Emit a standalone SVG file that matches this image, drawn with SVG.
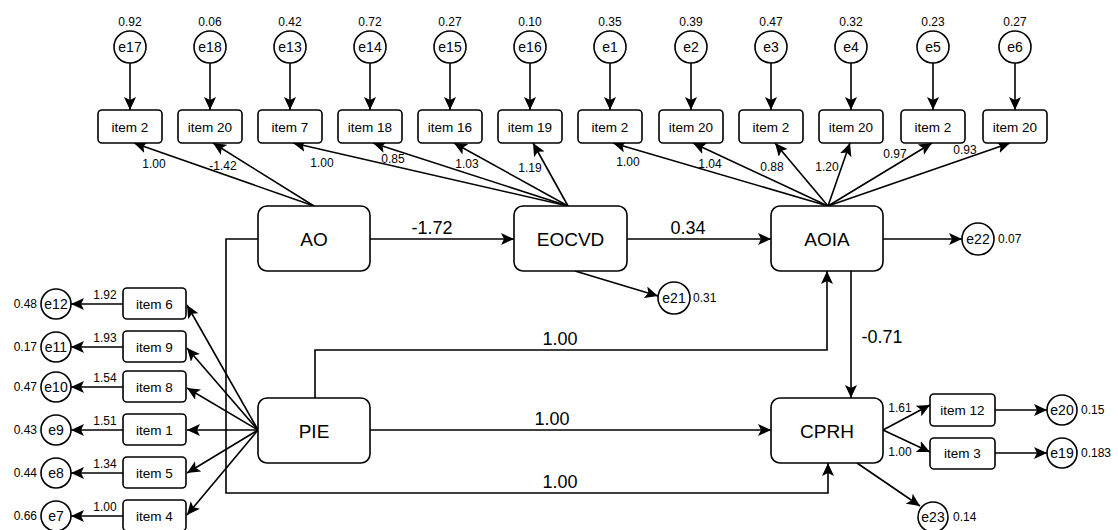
<svg xmlns="http://www.w3.org/2000/svg" width="1118" height="530" viewBox="0 0 1118 530">
<defs>
<marker id="ah" markerUnits="userSpaceOnUse" markerWidth="14" markerHeight="12" refX="13" refY="6" orient="auto">
<path d="M0,0 L13,6 L0,12 L3,6 z" fill="#000"/>
</marker>
<style>
text{font-family:"Liberation Sans",Arial,sans-serif;fill:#000}
.c{stroke:#000;stroke-width:1.6;fill:none}
.a{stroke:#000;stroke-width:1.6;fill:none;marker-end:url(#ah)}
.box{fill:#fff;stroke:#000;stroke-width:1.6}
.lv{fill:#fff;stroke:#000;stroke-width:1.6}
.it{font-size:13.5px;text-anchor:middle}
.ci{font-size:14px;text-anchor:middle}
.sm{font-size:12px}
.mn{font-size:19px;text-anchor:middle}
.pl{font-size:18px;text-anchor:middle}
.mid{text-anchor:middle}
</style>
</defs>
<rect width="1118" height="530" fill="#fff"/>

<g id="connectors">
<!-- error to top items -->
<line class="a" x1="130" y1="63" x2="130" y2="110"/>
<line class="a" x1="210" y1="63" x2="210" y2="110"/>
<line class="a" x1="290" y1="63" x2="290" y2="110"/>
<line class="a" x1="370" y1="63" x2="370" y2="110"/>
<line class="a" x1="450" y1="63" x2="450" y2="110"/>
<line class="a" x1="530" y1="63" x2="530" y2="110"/>
<line class="a" x1="610" y1="63" x2="610" y2="110"/>
<line class="a" x1="691" y1="63" x2="691" y2="110"/>
<line class="a" x1="771" y1="63" x2="771" y2="110"/>
<line class="a" x1="851" y1="63" x2="851" y2="110"/>
<line class="a" x1="933" y1="63" x2="933" y2="110"/>
<line class="a" x1="1015" y1="63" x2="1015" y2="110"/>
<!-- AO loadings -->
<line class="a" x1="314" y1="206" x2="134" y2="143"/>
<line class="a" x1="314" y1="206" x2="213" y2="143"/>
<!-- EOCVD loadings -->
<line class="a" x1="568" y1="206" x2="293" y2="143"/>
<line class="a" x1="568" y1="206" x2="373" y2="143"/>
<line class="a" x1="568" y1="206" x2="454" y2="143"/>
<line class="a" x1="568" y1="206" x2="533" y2="143"/>
<!-- AOIA loadings -->
<line class="a" x1="828" y1="206" x2="613" y2="143"/>
<line class="a" x1="828" y1="206" x2="693" y2="143"/>
<line class="a" x1="828" y1="206" x2="775" y2="143"/>
<line class="a" x1="828" y1="206" x2="850" y2="143"/>
<line class="a" x1="828" y1="206" x2="932" y2="143"/>
<line class="a" x1="828" y1="206" x2="1010" y2="143"/>
<!-- structural paths -->
<line class="a" x1="370" y1="239" x2="514" y2="239"/>
<line class="a" x1="627" y1="239" x2="771" y2="239"/>
<line class="a" x1="883" y1="239" x2="962" y2="239"/>
<line class="a" x1="575" y1="271" x2="658" y2="296"/>
<line class="a" x1="851" y1="271" x2="851" y2="398"/>
<polyline class="a" points="315,398 315,350 827,350 827,271"/>
<line class="a" x1="370" y1="430" x2="771" y2="430"/>
<polyline class="a" points="258,239 226,239 226,493 828,493 828,463"/>
<!-- PIE loadings -->
<line class="a" x1="258" y1="430" x2="187" y2="305"/>
<line class="a" x1="258" y1="430" x2="187" y2="348"/>
<line class="a" x1="258" y1="430" x2="187" y2="388"/>
<line class="a" x1="258" y1="430" x2="187" y2="430"/>
<line class="a" x1="258" y1="430" x2="187" y2="473"/>
<line class="a" x1="258" y1="430" x2="187" y2="515"/>
<!-- left items to errors -->
<line class="a" x1="123" y1="304" x2="71" y2="304"/>
<line class="a" x1="123" y1="347" x2="71" y2="347"/>
<line class="a" x1="123" y1="387" x2="71" y2="387"/>
<line class="a" x1="123" y1="430" x2="71" y2="430"/>
<line class="a" x1="123" y1="473" x2="71" y2="473"/>
<line class="a" x1="123" y1="516" x2="71" y2="516"/>
<!-- CPRH side -->
<line class="a" x1="883" y1="430" x2="930" y2="405"/>
<line class="a" x1="883" y1="430" x2="930" y2="452"/>
<line class="a" x1="995" y1="410" x2="1047" y2="410"/>
<line class="a" x1="995" y1="453" x2="1047" y2="453"/>
<line class="a" x1="857" y1="463" x2="920" y2="506"/>
</g>

<g id="path-labels">
<text class="pl" x="432" y="234">-1.72</text>
<text class="pl" x="688" y="234">0.34</text>
<text class="pl" x="882" y="343">-0.71</text>
<text class="pl" x="560" y="345">1.00</text>
<text class="pl" x="552" y="425">1.00</text>
<text class="pl" x="560" y="488">1.00</text>
<text class="sm mid" x="154" y="168">1.00</text>
<text class="sm mid" x="223" y="170">-1.42</text>
<text class="sm mid" x="322" y="167">1.00</text>
<text class="sm mid" x="393" y="163">0.85</text>
<text class="sm mid" x="467" y="168">1.03</text>
<text class="sm mid" x="530" y="172">1.19</text>
<text class="sm mid" x="628" y="166">1.00</text>
<text class="sm mid" x="710" y="168">1.04</text>
<text class="sm mid" x="772" y="171">0.88</text>
<text class="sm mid" x="827" y="171">1.20</text>
<text class="sm mid" x="895" y="158">0.97</text>
<text class="sm mid" x="965" y="154">0.93</text>
<text class="sm mid" x="105" y="299">1.92</text>
<text class="sm mid" x="105" y="342">1.93</text>
<text class="sm mid" x="105" y="382">1.54</text>
<text class="sm mid" x="105" y="425">1.51</text>
<text class="sm mid" x="105" y="468">1.34</text>
<text class="sm mid" x="105" y="511">1.00</text>
<text class="sm mid" x="900" y="412">1.61</text>
<text class="sm mid" x="900" y="456">1.00</text>
</g>

<g id="node-AO"><rect class="box" x="258" y="206" width="112" height="65" rx="9"/><text class="mn" x="314" y="245.5">AO</text></g>
<g id="node-EOCVD"><rect class="box" x="514" y="206" width="113" height="65" rx="9"/><text class="mn" x="570.5" y="245.5">EOCVD</text></g>
<g id="node-AOIA"><rect class="box" x="771" y="206" width="112" height="65" rx="9"/><text class="mn" x="827" y="245.5">AOIA</text></g>
<g id="node-PIE"><rect class="box" x="258" y="398" width="112" height="65" rx="9"/><text class="mn" x="314" y="437.5">PIE</text></g>
<g id="node-CPRH"><rect class="box" x="771" y="398" width="112" height="65" rx="9"/><text class="mn" x="827" y="437.5">CPRH</text></g>

<g id="top-items">
<g id="item-t1"><rect class="box" x="98" y="110" width="64" height="33" rx="4"/><text class="it" x="130" y="131.5">item 2</text></g>
<g id="item-t2"><rect class="box" x="178" y="110" width="64" height="33" rx="4"/><text class="it" x="210" y="131.5">item 20</text></g>
<g id="item-t3"><rect class="box" x="258" y="110" width="64" height="33" rx="4"/><text class="it" x="290" y="131.5">item 7</text></g>
<g id="item-t4"><rect class="box" x="338" y="110" width="64" height="33" rx="4"/><text class="it" x="370" y="131.5">item 18</text></g>
<g id="item-t5"><rect class="box" x="418" y="110" width="64" height="33" rx="4"/><text class="it" x="450" y="131.5">item 16</text></g>
<g id="item-t6"><rect class="box" x="498" y="110" width="64" height="33" rx="4"/><text class="it" x="530" y="131.5">item 19</text></g>
<g id="item-t7"><rect class="box" x="578" y="110" width="64" height="33" rx="4"/><text class="it" x="610" y="131.5">item 2</text></g>
<g id="item-t8"><rect class="box" x="659" y="110" width="64" height="33" rx="4"/><text class="it" x="691" y="131.5">item 20</text></g>
<g id="item-t9"><rect class="box" x="739" y="110" width="64" height="33" rx="4"/><text class="it" x="771" y="131.5">item 2</text></g>
<g id="item-t10"><rect class="box" x="819" y="110" width="64" height="33" rx="4"/><text class="it" x="851" y="131.5">item 20</text></g>
<g id="item-t11"><rect class="box" x="901" y="110" width="64" height="33" rx="4"/><text class="it" x="933" y="131.5">item 2</text></g>
<g id="item-t12"><rect class="box" x="983" y="110" width="64" height="33" rx="4"/><text class="it" x="1015" y="131.5">item 20</text></g>
</g>

<g id="top-errors">
<g id="e17"><circle class="lv" cx="130" cy="47" r="16"/><text class="ci" x="130" y="52">e17</text><text class="sm mid" x="130" y="26">0.92</text></g>
<g id="e18"><circle class="lv" cx="210" cy="47" r="16"/><text class="ci" x="210" y="52">e18</text><text class="sm mid" x="210" y="26">0.06</text></g>
<g id="e13"><circle class="lv" cx="290" cy="47" r="16"/><text class="ci" x="290" y="52">e13</text><text class="sm mid" x="290" y="26">0.42</text></g>
<g id="e14"><circle class="lv" cx="370" cy="47" r="16"/><text class="ci" x="370" y="52">e14</text><text class="sm mid" x="370" y="26">0.72</text></g>
<g id="e15"><circle class="lv" cx="450" cy="47" r="16"/><text class="ci" x="450" y="52">e15</text><text class="sm mid" x="450" y="26">0.27</text></g>
<g id="e16"><circle class="lv" cx="530" cy="47" r="16"/><text class="ci" x="530" y="52">e16</text><text class="sm mid" x="530" y="26">0.10</text></g>
<g id="e1"><circle class="lv" cx="610" cy="47" r="16"/><text class="ci" x="610" y="52">e1</text><text class="sm mid" x="610" y="26">0.35</text></g>
<g id="e2"><circle class="lv" cx="691" cy="47" r="16"/><text class="ci" x="691" y="52">e2</text><text class="sm mid" x="691" y="26">0.39</text></g>
<g id="e3"><circle class="lv" cx="771" cy="47" r="16"/><text class="ci" x="771" y="52">e3</text><text class="sm mid" x="771" y="26">0.47</text></g>
<g id="e4"><circle class="lv" cx="851" cy="47" r="16"/><text class="ci" x="851" y="52">e4</text><text class="sm mid" x="851" y="26">0.32</text></g>
<g id="e5"><circle class="lv" cx="933" cy="47" r="16"/><text class="ci" x="933" y="52">e5</text><text class="sm mid" x="933" y="26">0.23</text></g>
<g id="e6"><circle class="lv" cx="1015" cy="47" r="16"/><text class="ci" x="1015" y="52">e6</text><text class="sm mid" x="1015" y="26">0.27</text></g>
</g>

<g id="left-items">
<g id="item-l1"><rect class="box" x="123" y="288" width="63" height="31" rx="4"/><text class="it" x="154.5" y="308.5">item 6</text></g>
<g id="item-l2"><rect class="box" x="123" y="331" width="63" height="31" rx="4"/><text class="it" x="154.5" y="351.5">item 9</text></g>
<g id="item-l3"><rect class="box" x="123" y="371" width="63" height="31" rx="4"/><text class="it" x="154.5" y="391.5">item 8</text></g>
<g id="item-l4"><rect class="box" x="123" y="414" width="63" height="31" rx="4"/><text class="it" x="154.5" y="434.5">item 1</text></g>
<g id="item-l5"><rect class="box" x="123" y="457" width="63" height="31" rx="4"/><text class="it" x="154.5" y="477.5">item 5</text></g>
<g id="item-l6"><rect class="box" x="123" y="500" width="63" height="31" rx="4"/><text class="it" x="154.5" y="520.5">item 4</text></g>
</g>

<g id="left-errors">
<g id="e12"><circle class="lv" cx="56" cy="304" r="15"/><text class="ci" x="56" y="309">e12</text><text class="sm" x="37" y="308" text-anchor="end">0.48</text></g>
<g id="e11"><circle class="lv" cx="56" cy="347" r="15"/><text class="ci" x="56" y="352">e11</text><text class="sm" x="37" y="351" text-anchor="end">0.17</text></g>
<g id="e10"><circle class="lv" cx="56" cy="387" r="15"/><text class="ci" x="56" y="392">e10</text><text class="sm" x="37" y="391" text-anchor="end">0.47</text></g>
<g id="e9"><circle class="lv" cx="56" cy="430" r="15"/><text class="ci" x="56" y="435">e9</text><text class="sm" x="37" y="434" text-anchor="end">0.43</text></g>
<g id="e8"><circle class="lv" cx="56" cy="473" r="15"/><text class="ci" x="56" y="478">e8</text><text class="sm" x="37" y="477" text-anchor="end">0.44</text></g>
<g id="e7"><circle class="lv" cx="56" cy="516" r="15"/><text class="ci" x="56" y="521">e7</text><text class="sm" x="37" y="520" text-anchor="end">0.66</text></g>
</g>

<g id="right-items">
<g id="item-r1"><rect class="box" x="930" y="394" width="65" height="32" rx="4"/><text class="it" x="962.5" y="415">item 12</text></g>
<g id="item-r2"><rect class="box" x="930" y="438" width="65" height="31" rx="4"/><text class="it" x="962.5" y="458">item 3</text></g>
</g>

<g id="struct-errors">
<g id="e20"><circle class="lv" cx="1062" cy="410" r="15"/><text class="ci" x="1062" y="415">e20</text><text class="sm" x="1081" y="414">0.15</text></g>
<g id="e19"><circle class="lv" cx="1062" cy="453" r="15"/><text class="ci" x="1062" y="458">e19</text><text class="sm" x="1081" y="457">0.183</text></g>
<g id="e21"><circle class="lv" cx="674" cy="298" r="16"/><text class="ci" x="674" y="303">e21</text><text class="sm" x="693" y="302">0.31</text></g>
<g id="e22"><circle class="lv" cx="978" cy="239" r="16"/><text class="ci" x="978" y="244">e22</text><text class="sm" x="998" y="243">0.07</text></g>
<g id="e23"><circle class="lv" cx="933" cy="517" r="15"/><text class="ci" x="933" y="522">e23</text><text class="sm" x="953" y="521">0.14</text></g>
</g>
</svg>
